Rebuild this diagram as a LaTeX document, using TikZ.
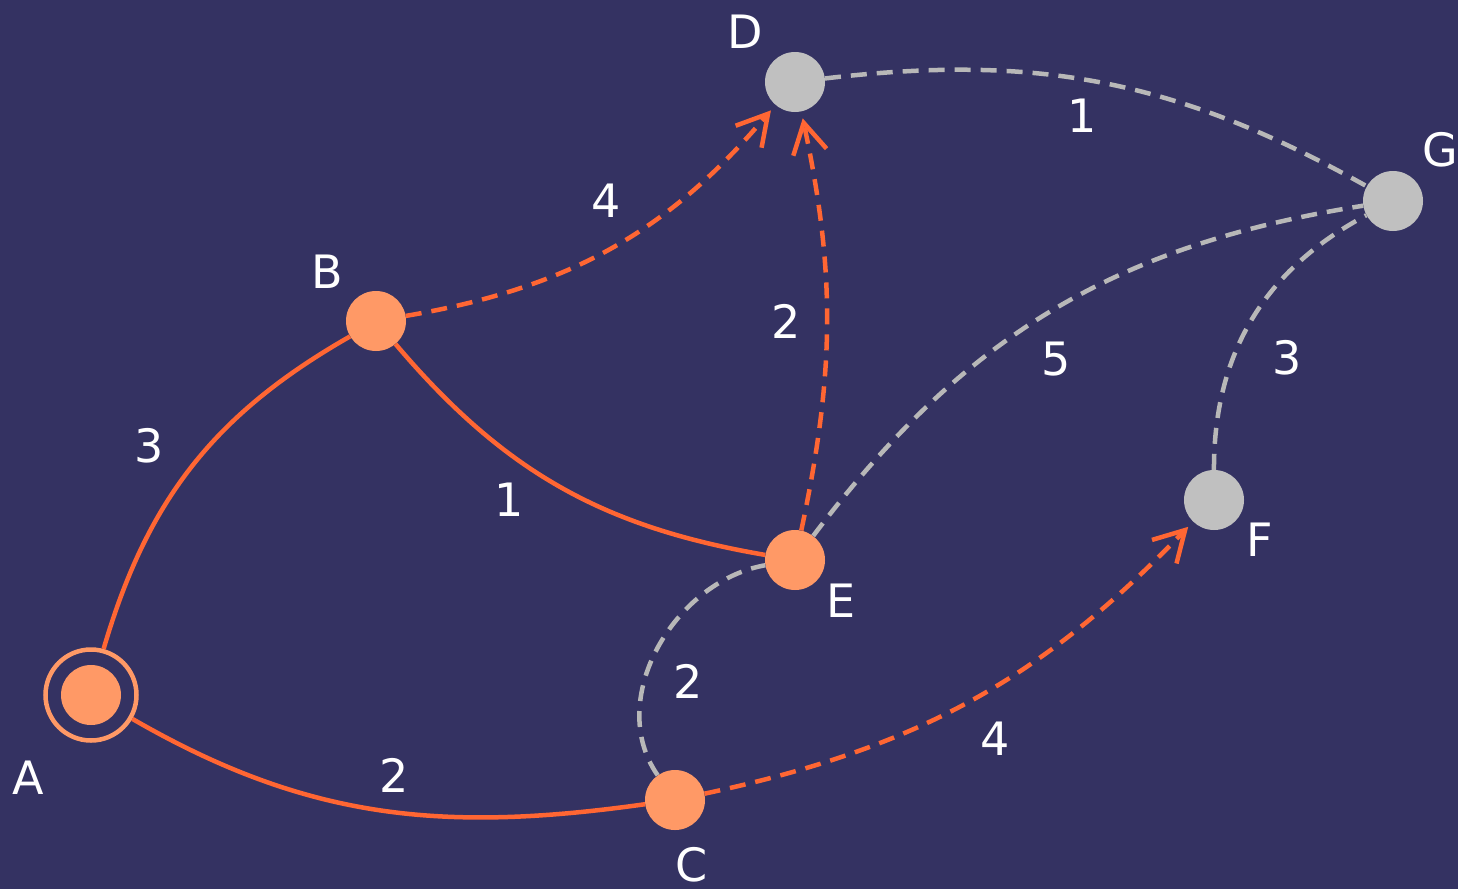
\documentclass[tikz,border=0pt]{standalone}
\usepackage{fontspec}
\setmainfont{DejaVu Sans}
\usetikzlibrary{arrows.meta,calc}
\definecolor{bgblue}{HTML}{343262}
\definecolor{ndorange}{HTML}{FF9966}
\definecolor{edorange}{HTML}{FF6633}
\definecolor{ndgray}{HTML}{C0C0C0}
\definecolor{edgray}{HTML}{B8B8B8}

\begin{document}
\begin{tikzpicture}[x=1pt, y=-1pt,
  vis/.style={circle, fill=ndorange, minimum size=60pt, inner sep=0pt},
  unvis/.style={circle, fill=ndgray, minimum size=60pt, inner sep=0pt},
  nlbl/.style={text=white, font=\fontsize{46}{50}\selectfont, inner sep=0pt},
  wlbl/.style={text=white, font=\fontsize{46}{50}\selectfont, inner sep=14pt},
  tree/.style={draw=edorange, line width=4.5pt},
  cand/.style={draw=edorange, line width=4.5pt, dash pattern=on 16pt off 10pt,
               -{Straight Barb[length=30pt, width=34pt]}, shorten >=7pt},
  rest/.style={draw=edgray, line width=4.5pt, dash pattern=on 16pt off 10pt}]
\fill[bgblue] (0,0) rectangle (1458,889);
\useasboundingbox (0,0) rectangle (1458,889);

% nodes
\node[circle, minimum size=91pt, inner sep=0pt, draw=ndorange, line width=4.5pt,
      path picture={\fill[ndorange] (path picture bounding box.center) circle (30pt);}]
      (A) at (91,695) {};
\node[vis] (B) at (376,321) {};
\node[vis] (C) at (675,800) {};
\node[unvis] (D) at (795,82) {};
\node[vis] (E) at (795,560) {};
\node[unvis] (F) at (1214,500) {};
\node[unvis] (G) at (1393,201) {};

% node names
\node[nlbl] (lA) at ($(A)+(-63,83)$) {A};
\node[nlbl] (lB) at ($(B)+(-49,-49)$) {B};
\node[nlbl] (lC) at ($(C)+(17,65)$) {C};
\node[nlbl] (lD) at ($(D)+(-50,-50)$) {D};
\node[nlbl] (lE) at ($(E)+(46,41)$) {E};
\node[nlbl] (lF) at ($(F)+(46,40)$) {F};
\node[nlbl] (lG) at ($(G)+(47,-51)$) {G};

% tree edges
\draw[tree] (A) to[bend left=22] node[wlbl, auto, pos=.45, inner sep=15pt] {3} (B);
\draw[tree] (A) to[out=-30, in=188] node[wlbl, auto, pos=.47, inner sep=13pt] {2} (C);
\draw[tree] (B) to[bend right=20] node[wlbl, auto, swap, pos=.43, inner sep=9pt] {1} (E);

% candidate edges
\draw[cand] (B) to[bend right=20] node[wlbl, auto, pos=.57, inner sep=13pt] {4} (D);
\draw[cand] (E) to[bend right=12] node[wlbl, auto, inner sep=24pt] {2} (D);
\draw[cand] (C) to[bend right=17] node[wlbl, auto, swap, pos=.48, inner sep=15pt] {4} (F);

% remaining edges
\draw[rest] (D) to[bend left=18] node[wlbl, auto, swap, pos=.51, inner sep=12pt] {1} (G);
\draw[rest] (E) to[bend left=22] node[wlbl, auto, swap, pos=.45, inner sep=13pt] {5} (G);
\draw[rest] (F) to[bend left=31] node[wlbl, auto, swap, inner sep=19pt] {3} (G);
\draw[rest] (C) to[out=125, in=190] node[wlbl, auto, swap] {2} (E);
\end{tikzpicture}
\end{document}
